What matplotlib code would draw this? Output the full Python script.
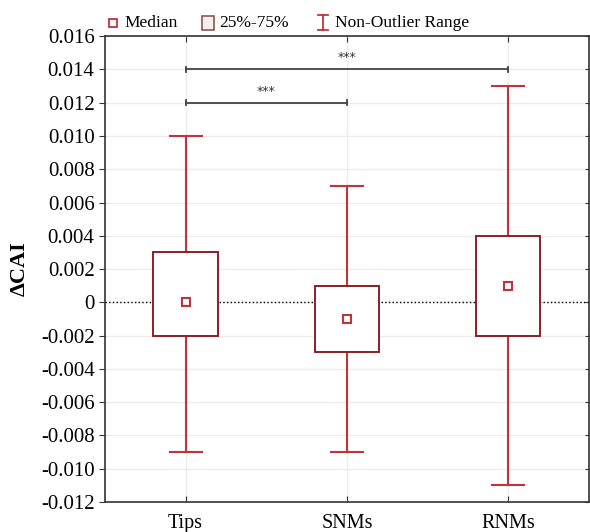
import matplotlib
matplotlib.use("Agg")
from matplotlib import pyplot as plt
from matplotlib.lines import Line2D
from matplotlib.patches import Rectangle

plt.rcParams['font.family'] = ['Liberation Serif', 'DejaVu Serif']

groups = ['Tips', 'SNMs', 'RNMs']
medians = [0.0, -0.001, 0.001]
q1s = [-0.002, -0.003, -0.002]
q3s = [0.003, 0.001, 0.004]
wlo = [-0.009, -0.009, -0.011]
whi = [0.010, 0.007, 0.013]

# significance brackets: (from, to, height)
sig_pairs = [(0, 2, 0.014), (0, 1, 0.012)]
sig_text = '***'

yticks = [round(-0.012 + 0.002*i, 3) for i in range(15)]

box_col = '#8b1f24'
wh_col = '#c0333d'

fig = plt.figure(figsize=(5.9, 5.32), dpi=100)
ax = fig.add_axes([0.178, 0.0564, 0.820, 0.8756])

stats = []
for g, m, a, b, lo, hi in zip(groups, medians, q1s, q3s, wlo, whi):
    stats.append(dict(label=g, med=m, q1=a, q3=b, whislo=lo, whishi=hi,
                      mean=m, fliers=[]))

ax.bxp(stats, positions=range(len(groups)), widths=0.4, showmeans=True,
       patch_artist=True, showfliers=False,
       boxprops=dict(facecolor='white', edgecolor=box_col, linewidth=1.4, zorder=3),
       whiskerprops=dict(color=wh_col, linewidth=1.5, zorder=2),
       capprops=dict(color=wh_col, linewidth=1.5, zorder=2),
       capwidths=0.2,
       medianprops=dict(linestyle='none'),
       meanprops=dict(marker='s', markersize=6, markerfacecolor='white',
                      markeredgecolor=wh_col, markeredgewidth=1.5, zorder=4))

ax.axhline(0, color='black', linestyle=':', linewidth=1, zorder=1)

for i, j, h in sig_pairs:
    ax.plot([i, j], [h, h], color='#444444', linewidth=1.3, zorder=5)
    ax.plot([i, i], [h - 0.00015, h + 0.00015], color='#444444', linewidth=1.3, zorder=5)
    ax.plot([j, j], [h - 0.00015, h + 0.00015], color='#444444', linewidth=1.3, zorder=5)
    ax.text((i + j) / 2, h + 0.0003, sig_text, ha='center', va='bottom',
            fontsize=9, color='#333333', family='DejaVu Sans')

ax.set_xlim(-0.5, 2.5)
ax.set_ylim(-0.012, 0.016)
ax.set_yticks(yticks)
ax.set_yticklabels(['0' if t == 0 else '%.3f' % t for t in yticks], fontsize=15)
ax.set_xticks(range(len(groups)))
ax.set_xticklabels(groups, fontsize=14.5)
ax.set_ylabel('ΔCAI', fontsize=16, fontweight='bold', labelpad=8)

ax.grid(True, color='#ececec', linewidth=1, zorder=0)
ax.set_axisbelow(True)
ax.tick_params(axis='y', direction='out', length=4, color='#333333')
ax.tick_params(axis='x', direction='in', length=4, top=True, color='#333333', pad=9)
for s in ax.spines.values():
    s.set_color('#333333')
    s.set_linewidth(1.2)

ax2 = ax.twinx()
ax2.set_ylim(ax.get_ylim())
ax2.set_yticks(yticks)
ax2.set_yticklabels([])
ax2.tick_params(axis='y', direction='in', length=3, color='#333333')
for s in ax2.spines.values():
    s.set_visible(False)

# legend above the axes
W, H = 590.0, 532.0
ly = 1 - 23 / H
fig.add_artist(Line2D([113 / W], [ly], marker='s', markersize=6, markerfacecolor='white',
                      markeredgecolor=wh_col, markeredgewidth=1.3, linestyle='none'))
fig.text(124 / W, ly, 'Median', fontsize=12.5, va='center', ha='left')
fig.add_artist(Rectangle((202 / W, (H - 30) / H), 12 / W, 14 / H, facecolor='#f4efec',
                         edgecolor='#8b5a50', linewidth=1.2))
fig.text(219 / W, ly, '25%-75%', fontsize=12.5, va='center', ha='left')
fig.add_artist(Line2D([323 / W, 323 / W], [(H - 30) / H, (H - 15) / H], color=wh_col, linewidth=1.3))
fig.add_artist(Line2D([318 / W, 328 / W], [(H - 30) / H, (H - 30) / H], color=wh_col, linewidth=1.3))
fig.add_artist(Line2D([318 / W, 328 / W], [(H - 15) / H, (H - 15) / H], color=wh_col, linewidth=1.3))
fig.text(335 / W, ly, 'Non-Outlier Range', fontsize=12.5, va='center', ha='left')

fig.savefig('out.png', dpi=100)
